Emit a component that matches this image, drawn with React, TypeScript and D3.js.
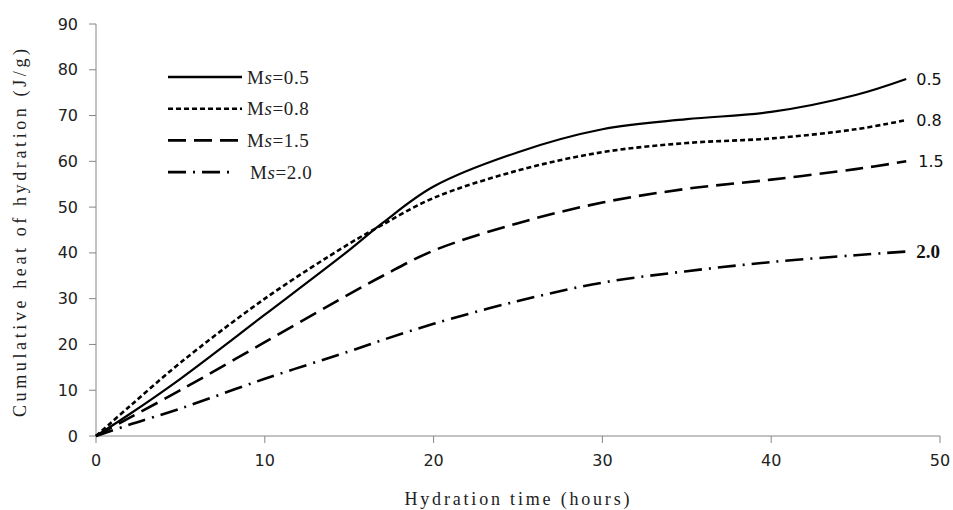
import React from "react";
import * as d3 from "d3";

// hours
const times = [0, 2, 5, 10, 15, 17, 20, 25, 30, 35, 40, 45, 48];
// cumulative heat (J/g) per Ms
const ms05 = [0, 4.8, 12.5, 26.5, 40.6, 46.6, 54.5, 62, 67, 69.2, 70.8, 74.5, 78];
const ms08 = [0, 6.5, 16, 30, 42, 46.2, 52, 58, 62, 64, 65, 67, 69];
const ms15 = [0, 4, 10, 20.5, 31, 35, 40.5, 46.5, 51, 54, 56, 58.3, 60];
const ms20 = [0, 2.5, 6, 12.5, 18.5, 21, 24.5, 29.5, 33.5, 36, 38, 39.5, 40.3];

const seriesNames = ["0.5", "0.8", "1.5", "2.0"];
const xTickValues = [0, 10, 20, 30, 40, 50];
const yTickValues = [0, 10, 20, 30, 40, 50, 60, 70, 80, 90];

const dashes = ["none", "5,3", "18,8", "18,7,2,7"];

export default function App() {
  const width = 953,
    height = 510;
  const left = 96,
    right = 940,
    top = 24,
    bottom = 436;

  const xScale = d3.scaleLinear().domain([0, 50]).range([left, right]);
  const yScale = d3.scaleLinear().domain([0, 90]).range([bottom, top]);

  const all = [ms05, ms08, ms15, ms20];
  const line = d3
    .line<number>()
    .x((d, i) => xScale(times[i]))
    .y((d) => yScale(d))
    .curve(d3.curveCatmullRom.alpha(0.5));

  const axisColor = "#868686";
  const sans = "'DejaVu Sans', sans-serif";
  const serif = "'Liberation Serif', 'Times New Roman', serif";

  // end labels
  const endOffsets = [10, 10, 12, 10];

  return (
    <svg
      width={width}
      height={height}
      style={{ position: "absolute", left: 0, top: 0, background: "#fff" }}
    >
      {/* y軸 */}
      <line x1={left} x2={left} y1={top} y2={bottom} stroke={axisColor} />
      {yTickValues.map((t) => (
        <g key={t}>
          <line
            x1={left - 7}
            x2={left}
            y1={yScale(t)}
            y2={yScale(t)}
            stroke={axisColor}
          />
          <text
            x={left - 18}
            y={yScale(t)}
            dy="0.35em"
            textAnchor="end"
            fontFamily={sans}
            fontSize={16}
            fill="#222"
          >
            {t}
          </text>
        </g>
      ))}

      {/* x軸 */}
      <line x1={left} x2={right} y1={bottom} y2={bottom} stroke={axisColor} />
      {xTickValues.map((t) => (
        <g key={t}>
          <line
            x1={xScale(t)}
            x2={xScale(t)}
            y1={bottom}
            y2={bottom + 7}
            stroke={axisColor}
          />
          <text
            x={xScale(t)}
            y={bottom + 30}
            textAnchor="middle"
            fontFamily={sans}
            fontSize={16}
            fill="#222"
          >
            {t}
          </text>
        </g>
      ))}

      {/* 軸タイトル */}
      <text
        transform={`translate(26,${(top + bottom) / 2 + 3}) rotate(-90)`}
        textAnchor="middle"
        fontFamily={serif}
        fontSize={18}
        textLength={368}
        lengthAdjust="spacing"
        fill="#222"
      >
        Cumulative heat of hydration (J/g)
      </text>
      <text
        x={517}
        y={505}
        textAnchor="middle"
        fontFamily={serif}
        fontSize={18}
        textLength={225}
        lengthAdjust="spacing"
        fill="#222"
      >
        Hydration time (hours)
      </text>

      {/* 曲線 */}
      {all.map((vals, i) => (
        <path
          key={i}
          d={line(vals) || ""}
          fill="none"
          stroke="#000"
          strokeWidth={i === 0 ? 2.2 : 2.6}
          strokeDasharray={dashes[i]}
        />
      ))}

      {/* 端ラベル */}
      {all.map((vals, i) => (
        <text
          key={i}
          x={xScale(times[times.length - 1]) + endOffsets[i]}
          y={yScale(vals[vals.length - 1])}
          dy="0.35em"
          fontFamily={i === 3 ? serif : sans}
          fontSize={i === 3 ? 19 : 16}
          fontWeight={i === 3 ? "bold" : "normal"}
          fill="#111"
        >
          {seriesNames[i]}
        </text>
      ))}

      {/* 凡例 */}
      {seriesNames.map((name, i) => {
        const y = 77 + i * 31.7;
        return (
          <g key={name}>
            <line
              x1={168}
              x2={i === 3 ? 230 : 242}
              y1={y}
              y2={y}
              stroke="#000"
              strokeWidth={i === 0 ? 2.4 : 2.6}
              strokeDasharray={dashes[i]}
            />
            <text
              x={i === 3 ? 250 : 247}
              y={y}
              dy="0.35em"
              fontFamily={serif}
              fontSize={19}
              letterSpacing={0.6}
              fill="#222"
            >
              M<tspan fontStyle="italic">s</tspan>={name}
            </text>
          </g>
        );
      })}
    </svg>
  );
}
